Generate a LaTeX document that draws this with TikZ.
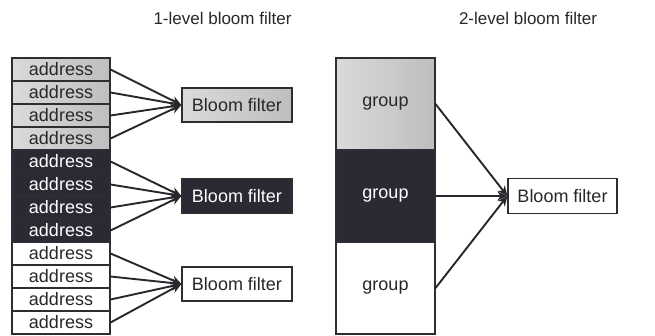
\documentclass[tikz,border=0pt]{standalone}
\usepackage{fontspec}
\setmainfont{Liberation Sans}
\usetikzlibrary{arrows.meta}
\definecolor{lightA}{RGB}{218,218,218}
\definecolor{lightB}{RGB}{190,190,190}
\definecolor{darkfill}{RGB}{42,42,52}
\definecolor{edge}{RGB}{45,45,50}
\definecolor{ink}{RGB}{40,40,44}
\tikzset{
  cell/.style={draw=edge, line width=1.1pt, inner sep=0pt, font=\fontsize{18}{18}\selectfont, text=ink},
  addr/.style={cell, minimum width=98pt, minimum height=23pt},
  grp/.style={cell, minimum width=99pt, minimum height=92pt},
  bf/.style={cell, minimum width=110pt, minimum height=34pt, line width=1.3pt},
  lightcell/.style={left color=lightA, right color=lightB},
  darkcell/.style={fill=darkfill, text=white},
  whitecell/.style={fill=white},
  title/.style={font=\fontsize{17}{18}\selectfont, text=ink},
  feed/.style={draw=ink, line width=1.9pt, -{Stealth[length=10pt,width=9pt]}}
}
\begin{document}
\begin{tikzpicture}[x=1pt,y=-1pt]
\useasboundingbox (0,0) rectangle (655,336);

% headings
\node[title] (t1) at (222.5,18) {1-level bloom filter};
\node[title] (t2) at (528,18) {2-level bloom filter};

% one-level: twelve address slots in three groups of four
\foreach \i in {0,...,3} {
  \node[addr, lightcell] (a\i) at (61,{69.5+23*\i}) {address};
}
\foreach \i in {4,...,7} {
  \node[addr, darkcell] (a\i) at (61,{69.5+23*\i}) {address};
}
\foreach \i in {8,...,11} {
  \node[addr, whitecell] (a\i) at (61,{69.5+23*\i}) {address};
}

\node[bf, lightcell] (f1) at (237,105) {Bloom filter};
\node[bf, darkcell]  (f2) at (237,196) {Bloom filter};
\node[bf, whitecell] (f3) at (237,284) {Bloom filter};

\foreach \i in {0,...,3} { \draw[feed] (a\i.east) -- (f1.west); }
\foreach \i in {4,...,7} { \draw[feed] (a\i.east) -- (f2.west); }
\foreach \i in {8,...,11} { \draw[feed] (a\i.east) -- (f3.west); }

% two-level: three groups sharing one filter
\node[grp, lightcell] (g1) at (385.5,104) {group};
\node[grp, darkcell]  (g2) at (385.5,196) {group};
\node[grp, whitecell] (g3) at (385.5,288) {group};

\node[bf, whitecell, minimum width=109pt, minimum height=35pt] (f4) at (562.5,196) {Bloom filter};

\draw[feed] (g1.east) -- (f4.west);
\draw[feed] (g2.east) -- (f4.west);
\draw[feed] (g3.east) -- (f4.west);
\end{tikzpicture}
\end{document}
